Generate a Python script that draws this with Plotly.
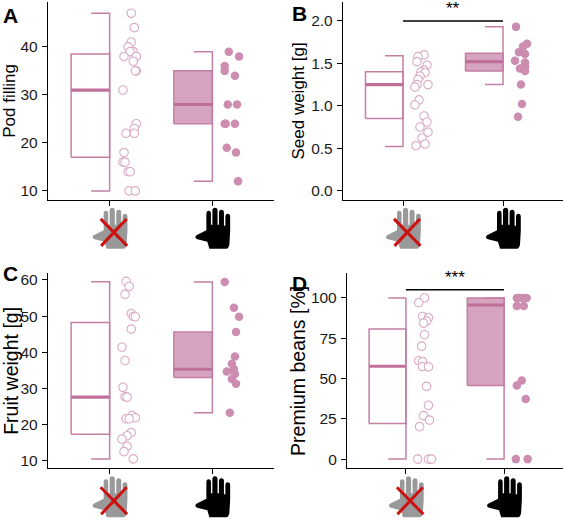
import plotly.graph_objects as go

# Four panels; group 1 = hand contact excluded (open circles), group 2 = hand pollinated (filled)

pod_open = [47, 44, 41, 40, 39, 39, 38, 38, 37, 35, 35, 31, 24, 23, 22, 22, 18, 16, 16, 14, 14, 10, 10]
pod_open_jit = [0.21, 0.24, 0.21, 0.18, 0.23, 0.20, 0.14, 0.26, 0.23, 0.26, 0.25, 0.13, 0.26, 0.24, 0.16, 0.24,
                0.14, 0.13, 0.15, 0.18, 0.20, 0.19, 0.25]
pod_hand = [39, 38, 36, 35, 34, 28, 28, 24, 24, 24, 19, 18, 12]
pod_hand_jit = [0.16, 0.26, 0.12, 0.12, 0.22, 0.15, 0.24, 0.12, 0.13, 0.22, 0.14, 0.23, 0.25]
pod_box_open = [10, 17, 31, 38.5, 47]   # min, q1, median, q3, max
pod_box_hand = [12, 24, 28, 35, 39]

seed_open = [1.60, 1.58, 1.52, 1.48, 1.42, 1.40, 1.39, 1.35, 1.31, 1.25, 1.25, 1.22, 1.07, 1.01, 0.88, 0.81,
             0.75, 0.69, 0.62, 0.55, 0.53]
seed_open_jit = [0.21, 0.15, 0.14, 0.24, 0.21, 0.18, 0.22, 0.17, 0.15, 0.25, 0.14, 0.12, 0.16, 0.12, 0.21, 0.24,
                 0.17, 0.25, 0.19, 0.22, 0.13]
seed_hand = [1.93, 1.73, 1.70, 1.63, 1.61, 1.53, 1.51, 1.46, 1.44, 1.41, 1.25, 1.02, 0.87]
seed_hand_jit = [0.13, 0.24, 0.20, 0.16, 0.22, 0.12, 0.22, 0.22, 0.17, 0.22, 0.18, 0.19, 0.15]
seed_box_open = [0.52, 0.85, 1.25, 1.40, 1.59]
seed_box_hand = [1.25, 1.41, 1.52, 1.62, 1.93]

fruit_open = [59.6, 58.2, 56.0, 50.7, 49.9, 49.8, 46.4, 41.4, 37.7, 30.3, 27.7, 27.6, 22.5, 21.9, 21.6, 21.6,
              17.8, 16.9, 16.0, 14.0, 12.5, 10.5]
fruit_open_jit = [0.16, 0.19, 0.15, 0.21, 0.23, 0.25, 0.21, 0.12, 0.15, 0.13, 0.15, 0.17, 0.22, 0.25, 0.16, 0.19,
                  0.21, 0.17, 0.12, 0.17, 0.14, 0.23]
fruit_hand = [59.4, 52.3, 49.8, 45.6, 38.8, 36.8, 35.3, 34.7, 34.0, 32.6, 31.3, 23.3]
fruit_hand_jit = [0.12, 0.21, 0.26, 0.23, 0.22, 0.19, 0.21, 0.14, 0.22, 0.19, 0.23, 0.17]
fruit_box_open = [10.5, 17.3, 27.6, 48.2, 59.5]
fruit_box_hand = [23.3, 33.0, 35.3, 45.6, 59.4]

prem_open = [100, 97, 88.5, 87.7, 85.6, 84.4, 77.2, 70.1, 61.0, 60.5, 57.4, 57.2, 45.1, 33.4, 27.0, 24.2, 20.1,
             0, 0, 0]
prem_open_jit = [0.19, 0.13, 0.17, 0.23, 0.21, 0.18, 0.19, 0.16, 0.13, 0.17, 0.17, 0.23, 0.21, 0.23, 0.18, 0.24,
                 0.14, 0.12, 0.23, 0.26]
prem_hand = [100, 100, 100, 100, 95, 95, 48.8, 45.7, 37.3, 0, 0]
prem_hand_jit = [0.13, 0.15, 0.19, 0.23, 0.13, 0.20, 0.18, 0.13, 0.22, 0.12, 0.24]
prem_box_open = [0, 22.1, 57.6, 80.7, 100]
prem_box_hand = [0, 45.6, 95.6, 100, 100]

panel_labels = ["A", "B", "C", "D"]
y_titles = ["Pod filling", "Seed weight [g]", "Fruit weight [g]", "Premium beans [%]"]
y_ticks = [[10, 20, 30, 40], [0, 0.5, 1.0, 1.5, 2.0], [10, 20, 30, 40, 50, 60], [0, 25, 50, 75, 100]]
y_ticktext = [None, ["0.0", "0.5", "1.0", "1.5", "2.0"], None, None]
y_ranges = [[8.14, 49.34], [-0.108, 2.223], [7.9, 61.8], [-5.7, 115.2]]
sig = [None, (2.0, "**"), None, (105, "***")]

W, H = 565, 522
LINE = "#c47fa4"
FILL = "rgba(204,140,176,0.8)"
DOT = "#cc8db0"
OPEN = "#d9abc5"
FONT = "Liberation Sans, Arial, sans-serif"

# plot areas in pixels: left, right, top, bottom
areas = [(48, 274, 0, 199), (343, 563, 0, 199), (48, 274, 273, 469), (347, 563, 273, 469)]
title_sizes = [17, 17, 19.5, 19.5]
title_standoff = [2, 2, 5, 0]
label_pos = [(2, 14), (291, 12), (2, 273), (291, 283)]   # left, vertical centre of the letter

panels = [
    (pod_open, pod_open_jit, pod_hand, pod_hand_jit, pod_box_open, pod_box_hand),
    (seed_open, seed_open_jit, seed_hand, seed_hand_jit, seed_box_open, seed_box_hand),
    (fruit_open, fruit_open_jit, fruit_hand, fruit_hand_jit, fruit_box_open, fruit_box_hand),
    (prem_open, prem_open_jit, prem_hand, prem_hand_jit, prem_box_open, prem_box_hand),
]

BOX_W = 0.375
CAP_W = 0.18


def hand_path():
    # pixel offsets from the tick (x) and the bottom of the axis (y, up is positive)
    return ("M -3,-49 L -5,-42 L -15,-39.5 Q -18.5,-38 -16,-35.5 L -6,-30.5 "
            "L -6,-14 Q -6,-11 -3.7,-11 Q -1.4,-11 -1.4,-14 L -1.4,-25 L 0,-25 "
            "L 0,-11 Q 0,-8 2.6,-8 Q 5.2,-8 5.2,-11 L 5.2,-25 L 6.6,-25 "
            "L 6.6,-13 Q 6.6,-10 9.1,-10 Q 11.6,-10 11.6,-13 L 11.6,-26 L 13,-26 "
            "L 13,-17 Q 13,-14 15.4,-14 Q 17.8,-14 17.8,-17 L 17.8,-31 "
            "L 17,-45 Q 16,-49 14,-49 Z")


fig = go.Figure()
shapes = []
annotations = []

for i, (vo, jo, vh, jh, bo, bh) in enumerate(panels):
    n = "" if i == 0 else str(i + 1)
    xa, ya = "x" + n, "y" + n
    left, right, top, bottom = areas[i]
    fig.update_layout({
        "xaxis" + n: dict(domain=[left / W, right / W], range=[0.4, 2.6], anchor=ya,
                          tickvals=[1, 2], showticklabels=False, ticks="outside", ticklen=5,
                          tickcolor="black", showline=True, linecolor="black", linewidth=1.3,
                          showgrid=False, zeroline=False, fixedrange=True),
        "yaxis" + n: dict(domain=[1 - bottom / H, 1 - top / H], range=y_ranges[i], anchor=xa,
                          tickvals=y_ticks[i], ticktext=y_ticktext[i], ticks="outside", ticklen=5,
                          ticklabelstandoff=1,
                          tickcolor="black", showline=True, linecolor="black", linewidth=1.3,
                          showgrid=False, zeroline=False, fixedrange=True,
                          tickfont=dict(size=15.5, color="#1a1a1a", family=FONT),
                          title=dict(text=y_titles[i], font=dict(size=title_sizes[i], color="black",
                                                                 family=FONT),
                                     standoff=title_standoff[i])),
    })

    for g, box, filled in [(1, bo, False), (2, bh, True)]:
        lo, q1, med, q3, hi = box
        fig.add_trace(go.Scatter(
            x=[g - BOX_W, g, g, g - BOX_W, g - BOX_W], y=[q1, q1, q3, q3, q1],
            xaxis=xa, yaxis=ya, mode="lines", fill="toself" if filled else None,
            fillcolor=FILL, line=dict(color=LINE, width=1.5), showlegend=False, hoverinfo="skip"))
        fig.add_trace(go.Scatter(
            x=[g - CAP_W, g, g, g - CAP_W], y=[hi, hi, lo, lo],
            xaxis=xa, yaxis=ya, mode="lines", line=dict(color=LINE, width=1.5),
            showlegend=False, hoverinfo="skip"))
        fig.add_trace(go.Scatter(
            x=[g - BOX_W, g], y=[med, med], xaxis=xa, yaxis=ya, mode="lines",
            line=dict(color="#c06f9a", width=3.2), showlegend=False, hoverinfo="skip"))

    fig.add_trace(go.Scatter(
        x=[1 + d for d in jo], y=vo, xaxis=xa, yaxis=ya, mode="markers",
        marker=dict(size=8.5, color="white", line=dict(color=OPEN, width=1.1)),
        showlegend=False))
    fig.add_trace(go.Scatter(
        x=[2 + d for d in jh], y=vh, xaxis=xa, yaxis=ya, mode="markers",
        marker=dict(size=8.5, color=DOT, line=dict(width=0)),
        showlegend=False))

    if sig[i]:
        yb, stars = sig[i]
        fig.add_trace(go.Scatter(x=[1, 2], y=[yb, yb], xaxis=xa, yaxis=ya, mode="lines",
                                 line=dict(color="black", width=1.5), showlegend=False, hoverinfo="skip"))
        annotations.append(dict(x=1.5, y=yb, xref=xa, yref=ya, text=stars, showarrow=False,
                                yanchor="bottom", yshift=1,
                                font=dict(size=17, color="black", family=FONT)))

    lx, ly = label_pos[i]
    annotations.append(dict(x=lx / W, y=1 - ly / H, xref="paper", yref="paper",
                            text="<b>" + panel_labels[i] + "</b>", showarrow=False,
                            xanchor="left", yanchor="middle", borderpad=0,
                            font=dict(size=21, color="black", family=FONT)))

    # hand pictograms under the x axis
    for g, col in [(1, "#999999"), (2, "black")]:
        shapes.append(dict(type="path", path=hand_path(), xref=xa, yref=ya + " domain",
                           xsizemode="pixel", ysizemode="pixel", xanchor=g, yanchor=0,
                           fillcolor=col, line=dict(width=0), layer="above"))
    for p in ["M -9,-19 L 17.5,-46", "M 17,-19 L -8.5,-46"]:
        shapes.append(dict(type="path", path=p, xref=xa, yref=ya + " domain",
                           xsizemode="pixel", ysizemode="pixel", xanchor=1, yanchor=0,
                           line=dict(color="#cc1111", width=3), layer="above"))

fig.update_layout(width=W, height=H, margin=dict(l=0, r=0, t=0, b=0),
                  plot_bgcolor="white", paper_bgcolor="white",
                  shapes=shapes, annotations=annotations, showlegend=False)

# the page body has a default 8px margin; drop it so the figure sits at the window corner
fig.write_html("out.html", config={"displayModeBar": False},
               post_script="document.body.style.margin='0px';")
